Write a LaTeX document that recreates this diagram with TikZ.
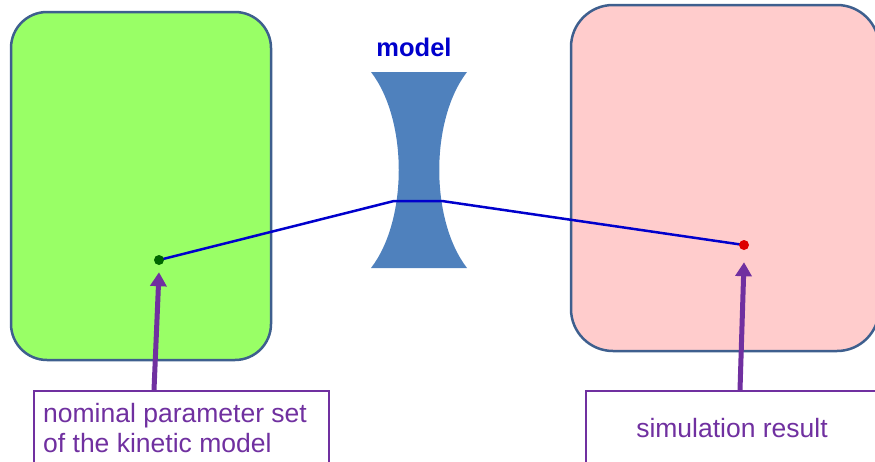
\documentclass[tikz,border=0pt]{standalone}
\usepackage{fontspec}
\setmainfont{Liberation Sans}
\usetikzlibrary{arrows.meta}
\definecolor{greenfill}{HTML}{99FF66}
\definecolor{pinkfill}{HTML}{FFCCCC}
\definecolor{panelborder}{HTML}{3E5F8E}
\definecolor{lensblue}{HTML}{4F81BD}
\definecolor{linkblue}{HTML}{0000CC}
\definecolor{notepurple}{HTML}{7030A0}
\definecolor{dotgreen}{HTML}{006600}
\definecolor{dotred}{HTML}{DD0000}
\tikzset{
  panel/.style={draw=panelborder, line width=2.5pt, rounded corners=36pt, inner sep=0pt},
  link/.style={draw=linkblue, line width=2.5pt},
  dot/.style={circle, inner sep=0pt, minimum size=10pt},
  pointer/.style={draw=notepurple, line width=5pt, -{Triangle[length=14pt,width=16pt]}},
  notebox/.style={draw=notepurple, line width=2pt, fill=white, inner sep=0pt, anchor=north west},
  notetext/.style={text=notepurple, font=\fontsize{26.5}{30}\selectfont, inner sep=0pt},
}
\begin{document}
\begin{tikzpicture}[x=1pt, y=-1pt]
  \useasboundingbox (0,0) rectangle (875,461);
  \clip (0,0) rectangle (875,461);

  % parameter space and result space
  \node[panel, fill=greenfill, minimum width=260pt, minimum height=348pt] (params) at (141,186) {};
  \node[panel, fill=pinkfill, minimum width=308pt, minimum height=346pt, rounded corners=42pt] (results) at (725,178) {};

  % the model drawn as a concave lens
  \fill[lensblue] (371,72) -- (467,72) .. controls (430,120) and (430,220) .. (467,268)
    -- (371,268) .. controls (408,220) and (408,120) .. (371,72);
  \node[text=linkblue, font=\bfseries\fontsize{25.5}{30}\selectfont, anchor=base, inner sep=0pt] (modeltitle) at (414,56) {model};

  % mapping through the model
  \coordinate (p0) at (159,260);
  \coordinate (r0) at (744,245);
  \coordinate (waistL) at (394,201);
  \coordinate (waistR) at (442,201);
  \draw[link] (p0) -- (waistL) -- (waistR) -- (r0);
  \node[dot, fill=dotgreen] (pdot) at (p0) {};
  \node[dot, fill=dotred] (rdot) at (r0) {};

  % annotation boxes
  \node[notebox, minimum width=295pt, minimum height=100pt] (pnote) at (33,390) {};
  \node[notetext, anchor=base west, align=left] (ptext) at (43,452) {nominal parameter set\\of the kinetic model};
  \node[notebox, minimum width=320pt, minimum height=100pt] (rnote) at (585,390) {};
  \node[notetext, anchor=base] (rtext) at (732,437) {simulation result};

  % pointers from annotations to points
  \draw[pointer] ([xshift=-27.5pt]pnote.north) -- ([yshift=-7pt]pdot.south);
  \draw[pointer] ([xshift=-4pt]rdot |- rnote.north) -- ([yshift=-12pt]rdot.south);
\end{tikzpicture}
\end{document}
